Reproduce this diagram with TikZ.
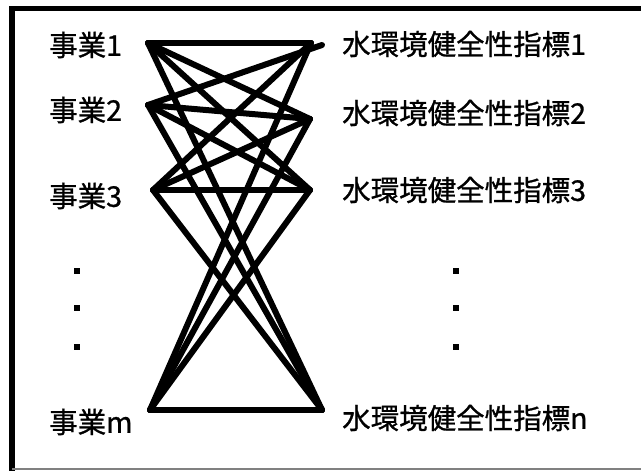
\documentclass[tikz,border=0pt]{standalone}
\usepackage{fontspec}
\newfontfamily\cjk[FakeBold=0.9]{Noto Sans CJK JP}
\begin{document}
\begin{tikzpicture}[x=1pt,y=-1pt,
  lbl/.style={anchor=west,inner sep=0pt,font=\cjk\fontsize{28.5}{28.5}\selectfont},
  link/.style={line width=6pt,line cap=round,line join=round},
  dotmark/.style={fill=black,draw=none,minimum size=6.5pt,inner sep=0pt,rectangle}]
\useasboundingbox (0,0) rectangle (641,471);
\fill[white] (0,0) rectangle (641,471);
% frame
\draw[line width=5.5pt] (641,8.5) -- (12,8.5) -- (12,471);
\draw[line width=1.5pt,gray] (12,469) -- (641,469);
% labels
\node[lbl] (a1) at (49,45) {事業1};
\node[lbl] (a2) at (49,110) {事業2};
\node[lbl] (a3) at (49,196) {事業3};
\node[lbl] (am) at (49,422) {事業m};
\node[lbl] (b1) at (342,44) {水環境健全性指標1};
\node[lbl] (b2) at (342,113) {水環境健全性指標2};
\node[lbl] (b3) at (342,190) {水環境健全性指標3};
\node[lbl] (bn) at (342,418) {水環境健全性指標n};
% dots
\node[dotmark] (d1) at (77,271) {};
\node[dotmark] (d2) at (77,308) {};
\node[dotmark] (d3) at (77,347) {};
\node[dotmark] (e1) at (456,271) {};
\node[dotmark] (e2) at (456,308) {};
\node[dotmark] (e3) at (456,347) {};
% endpoints
\coordinate (L1) at (148,43);
\coordinate (L2) at (148,105);
\coordinate (L3) at (153,190);
\coordinate (Lm) at (150,410);
\coordinate (R1) at (311,43);
\coordinate (R2) at (310,119);
\coordinate (R3) at (310,190);
\coordinate (Rn) at (322,410);
\coordinate (T) at (322,45);
% connectors
\foreach \l in {L1,L3,Lm}{
  \foreach \r in {R1,R2,R3,Rn}{
    \draw[link] (\l) -- (\r);
  }
}
\foreach \r in {R2,R3,Rn}{
  \draw[link] (L2) -- (\r);
}
\draw[link] (L2) -- (T);
\end{tikzpicture}
\end{document}
